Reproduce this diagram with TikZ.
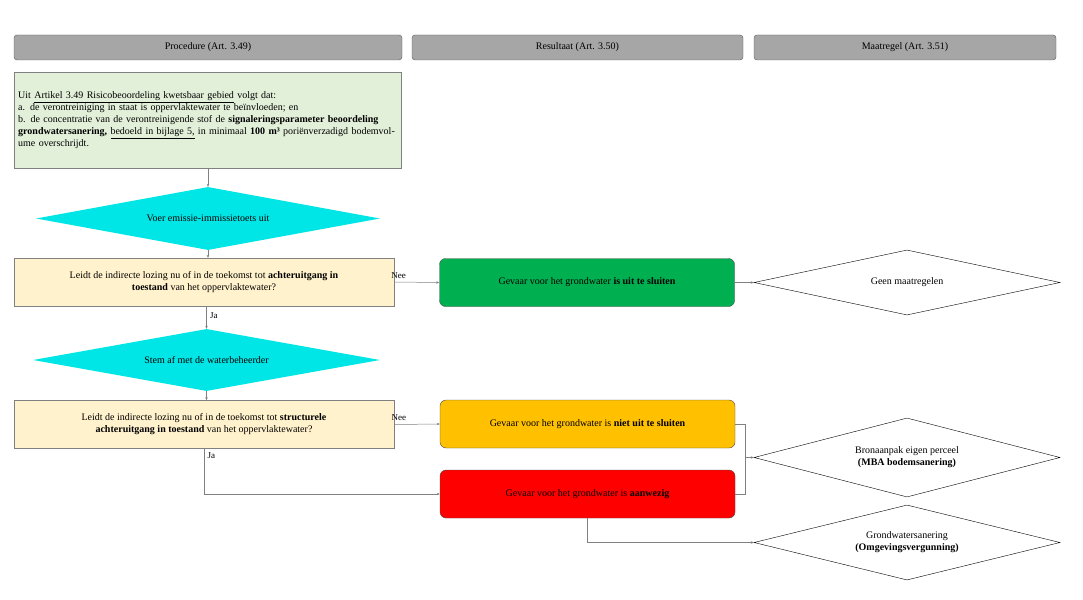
\documentclass[tikz,border=0pt]{standalone}
\usepackage{fontspec}
\setmainfont{Liberation Serif}
\usetikzlibrary{shapes.geometric,arrows.meta}
\definecolor{hdr}{HTML}{A6A6A6}
\definecolor{grn}{HTML}{E2EFD9}
\definecolor{yel}{HTML}{FFF2CC}
\definecolor{cy}{HTML}{00E5E5}
\begin{document}
\begin{tikzpicture}[x=1pt,y=-1pt,font=\fontsize{10}{12}\selectfont,
 hdr/.style={draw=gray!70!black,fill=hdr,rounded corners=3pt,minimum height=25pt,inner sep=0pt},
 box/.style={draw=gray,minimum height=48pt,align=center,inner sep=2pt},
 res/.style={draw=gray!60!black,rounded corners=6pt,minimum width=295pt,minimum height=48pt,align=center},
 dia/.style={diamond,aspect=4.8,inner sep=0pt,align=center},
 con/.style={draw=gray,line width=0.5pt,-{Stealth[length=3pt,width=2.5pt]}},
 lbl/.style={font=\fontsize{9}{11}\selectfont}]
\useasboundingbox (0,0) rectangle (1083,599);
\node[hdr,minimum width=388pt] (h1) at (208,47.5) {Procedure (Art. 3.49)};
\node[hdr,minimum width=331pt] (h2) at (577.5,47.5) {Resultaat (Art. 3.50)};
\node[hdr,minimum width=302pt] (h3) at (905,47.5) {Maatregel (Art. 3.51)};
\node[draw=gray,fill=grn,minimum width=387pt,minimum height=96pt,anchor=north west,align=left,inner sep=4pt,text width=379pt] (g) at (14,72)
{Uit \underline{Artikel 3.49 Risicobeoordeling kwetsbaar gebied} volgt dat:\\
a. de verontreiniging in staat is oppervlaktewater te beïnvloeden; en\\
b. de concentratie van de verontreinigende stof de \textbf{signaleringsparameter beoordeling grondwatersanering,} \underline{bedoeld in bijlage 5,} in minimaal \textbf{100 m³} poriënverzadigd bodemvolume overschrijdt.};
\node[dia,fill=cy,minimum width=344pt,minimum height=63pt] (d1) at (208,218.5) {Voer emissie-immissietoets uit};
\node[box,fill=yel,minimum width=380pt] (b2) at (204,282) {Leidt de indirecte lozing nu of in de toekomst tot \textbf{achteruitgang in}\\\textbf{toestand} van het oppervlaktewater?};
\node[dia,fill=cy,minimum width=347pt,minimum height=62pt] (d2) at (206.5,360) {Stem af met de waterbeheerder};
\node[box,fill=yel,minimum width=380pt] (b3) at (204,424.5) {Leidt de indirecte lozing nu of in de toekomst tot \textbf{structurele}\\\textbf{achteruitgang in toestand} van het oppervlaktewater?};
\node[res,fill={rgb,255:red,0;green,176;blue,80}] (r1) at (587,282.5) {Gevaar voor het grondwater \textbf{is uit te sluiten}};
\node[res,fill={rgb,255:red,255;green,192;blue,0}] (r2) at (587.5,424) {Gevaar voor het grondwater is \textbf{niet uit te sluiten}};
\node[res,fill=red] (r3) at (587.5,494) {Gevaar voor het grondwater is \textbf{aanwezig}};
\node[dia,draw=black,fill=white,minimum width=306pt,minimum height=65pt] (m1) at (907,282.5) {Geen maatregelen};
\node[dia,draw=black,fill=white,minimum width=306pt,minimum height=79pt] (m2) at (907,457.5) {Bronaanpak eigen perceel\\\textbf{(MBA bodemsanering)}};
\node[dia,draw=black,fill=white,minimum width=306pt,minimum height=75pt] (m3) at (907,542.5) {Grondwatersanering\\\textbf{(Omgevingsvergunning)}};
\coordinate (j) at (745,457.5);
\draw[con] (g.south -| d1.north) -- (d1.north);
\draw[con] (d1.south) -- (d1.south |- b2.north);
\draw[con] (b2.east) -- node[lbl,pos=0.1,above] {Nee} (r1.west);
\draw[con] (r1.east) -- (m1.west);
\draw[con] (b2.south -| d2.north) -- node[lbl,pos=0.4,right] {Ja} (d2.north);
\draw[con] (d2.south) -- (d2.south |- b3.north);
\draw[con] (b3.east) -- node[lbl,pos=0.1,above] {Nee} (r2.west);
\draw[con] (b3.south) -- node[lbl,pos=0.15,right] {Ja} (b3.south |- r3.west) -- (r3.west);
\draw[draw=gray,line width=0.5pt] (r2.east) -| (j) |- (r3.east);
\draw[con] (j) -- (m2.west);
\draw[con] (r3.south) |- (m3.west);
\end{tikzpicture}
\end{document}
